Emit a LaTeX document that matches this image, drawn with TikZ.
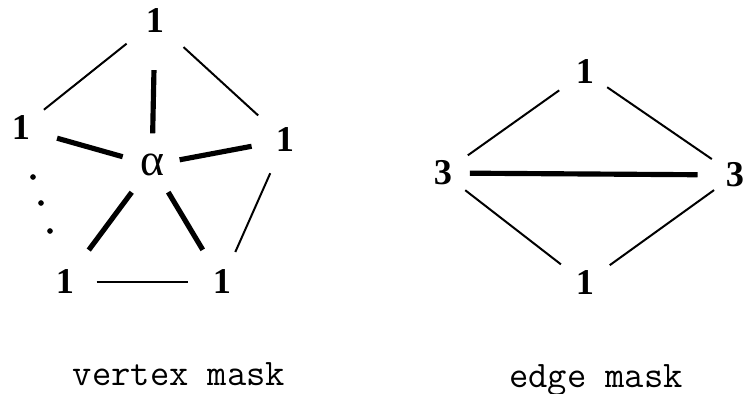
\documentclass[tikz,border=0pt]{standalone}
\usepackage{fontspec}
\setmainfont{Liberation Serif}
\begin{document}
\begin{tikzpicture}[x=0.03cm,y=-0.03cm,
  num/.style={inner sep=0pt,font=\fontsize{31}{32}\selectfont\bfseries},
  thinedge/.style={line width=1.7pt},
  spoke/.style={line width=4.4pt},
  masklabel/.style={anchor=base,inner sep=0pt,font=\fontsize{32}{34}\selectfont\ttfamily}]
\useasboundingbox (0,0) rectangle (745,394);

% vertex mask
\node[num] (t1) at (155,21) {1};
\node[num] (l1) at (21,128) {1};
\node[num] (r1) at (285,140) {1};
\node[num] (bl) at (65,282) {1};
\node[num] (br) at (222,282) {1};
\node[inner sep=0pt,font=\fontsize{39}{40}\selectfont] (a) at (152,165) {α};

\draw[thinedge,shorten <=25pt,shorten >=31pt] (l1.center) -- (t1.center);
\draw[thinedge,shorten <=33pt,shorten >=31pt] (t1.center) -- (r1.center);
\draw[thinedge,shorten <=31pt,shorten >=28pt] (r1.center) -- (br.center);
\draw[thinedge,shorten <=27pt,shorten >=29pt] (bl.center) -- (br.center);

\draw[spoke,shorten <=27pt,shorten >=42pt] (a.center) -- (t1.center);
\draw[spoke,shorten <=26pt,shorten >=32pt] (a.center) -- (l1.center);
\draw[spoke,shorten <=24pt,shorten >=29pt] (a.center) -- (r1.center);
\draw[spoke,shorten <=29pt,shorten >=34pt] (a.center) -- (bl.center);
\draw[spoke,shorten <=27pt,shorten >=32pt] (a.center) -- (br.center);

\fill (33,177) circle[radius=2.4pt];
\fill (41,203) circle[radius=2.4pt];
\fill (50,231) circle[radius=2.4pt];

% edge mask
\node[num] (et) at (585,72) {1};
\node[num] (el) at (443,173) {3};
\node[num] (er) at (735,175) {3};
\node[num] (eb) at (585,283) {1};

\draw[thinedge,shorten <=26pt,shorten >=27pt] (el.center) -- (et.center);
\draw[thinedge,shorten <=23pt,shorten >=24pt] (et.center) -- (er.center);
\draw[thinedge,shorten <=24pt,shorten >=26pt] (el.center) -- (eb.center);
\draw[thinedge,shorten <=26pt,shorten >=22pt] (eb.center) -- (er.center);
\draw[spoke,shorten <=23pt,shorten >=32pt] (el.center) -- (er.center);

\node[masklabel] (vlabel) at (179,385) {vertex mask};
\node[masklabel] (elabel) at (596,387) {edge mask};
\end{tikzpicture}
\end{document}
